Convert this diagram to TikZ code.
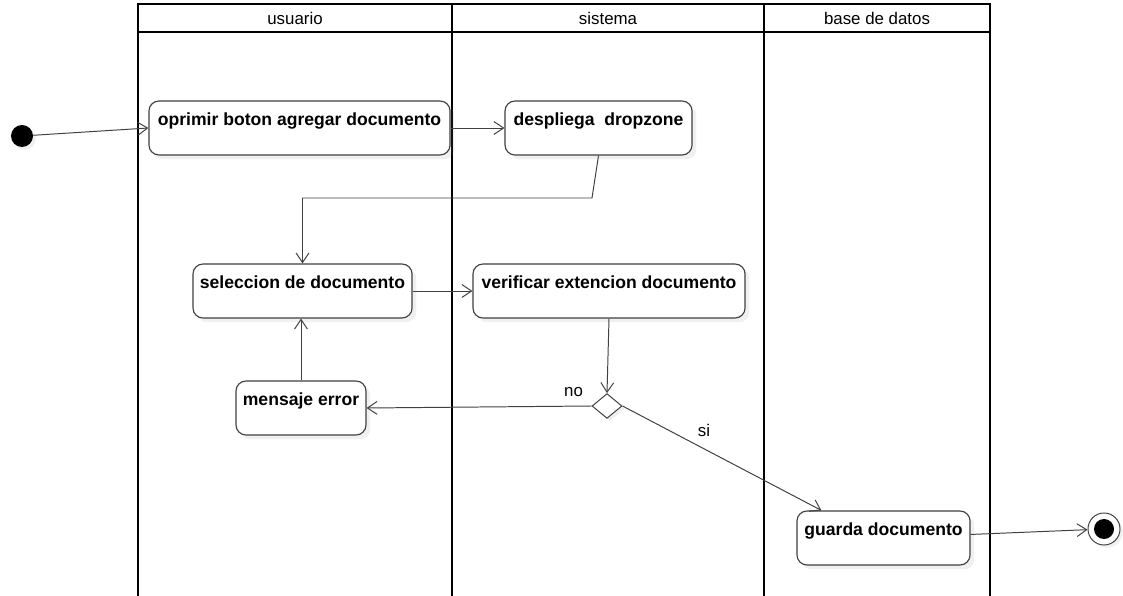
\documentclass[tikz,border=0pt]{standalone}
\usepackage{fontspec}
\setmainfont{Liberation Sans}
\usetikzlibrary{arrows.meta, shapes.geometric, shadows}

\begin{document}
\begin{tikzpicture}[
  x=0.025cm, y=-0.025cm,
  act/.style={rectangle, rounded corners=2.5mm, draw=black!75, line width=0.8pt, fill=white,
    drop shadow={shadow xshift=3pt, shadow yshift=-3pt, opacity=.12},
    font=\fontsize{12.5}{14}\selectfont\bfseries, inner xsep=3pt, inner ysep=0pt,
    text height=0.62cm, text depth=0.73cm},
  lane/.style={font=\fontsize{12}{14}\selectfont},
  flow/.style={-{Straight Barb[length=2.4mm, width=3.2mm]}, draw=black!75, line width=0.7pt},
  start/.style={circle, fill=black, minimum size=0.55cm, inner sep=0pt,
    drop shadow={shadow xshift=2pt, shadow yshift=-2pt, opacity=.12}},
  stop/.style={circle, draw=black!75, fill=white, line width=0.7pt, minimum size=0.8cm, inner sep=0pt,
    drop shadow={shadow xshift=2pt, shadow yshift=-2pt, opacity=.12}},
  decision/.style={diamond, draw=black!75, fill=white, line width=0.7pt, minimum width=0.75cm,
    minimum height=0.62cm, inner sep=0pt,
    drop shadow={shadow xshift=2pt, shadow yshift=-2pt, opacity=.12}}
]
\useasboundingbox (0,0) rectangle (1123,596);

% carriles
\draw[line width=1.4pt] (138,596) |- (990,4) -- (990,596);
\draw[line width=1.4pt] (138,32) -- (990,32);
\draw[line width=1.4pt] (452,4) -- (452,596);
\draw[line width=1.4pt] (764,4) -- (764,596);
\node[lane] (usuario) at (295,18) {usuario};
\node[lane] (sistema) at (608,18) {sistema};
\node[lane] (bd) at (877,18) {base de datos};

% actividades
\node[start] (ini) at (22,136) {};
\node[act, minimum width=7.525cm] (op) at (299.5,128) {oprimir boton agregar documento};
\node[act, minimum width=4.675cm] (dz) at (598.5,128) {despliega\ \ dropzone};
\node[act, minimum width=5.475cm] (sd) at (302.5,291) {seleccion de documento};
\node[act, minimum width=6.8cm] (vx) at (609,291) {verificar extencion documento};
\node[decision] (dec) at (607,406) {};
\node[act, minimum width=3.25cm] (me) at (301,408) {mensaje error};
\node[act, minimum width=4.325cm] (gd) at (883.5,538) {guarda documento};
\node[stop] (fin) at (1104,529) {};
\fill (fin.center) circle (0.25cm);

% flujo
\draw[flow] (ini) -- (op.west);
\draw[flow] (op) -- (dz);
\draw[flow] (dz.south) -- (592,198) -| (sd.north);
\draw[flow] (sd) -- (vx);
\draw[flow] (vx.south) -- (dec.north);
\draw[flow] (dec.west) -- node[pos=0.08, above=3pt, lane] {no} (me.east);
\draw[flow] (dec.east) -- node[pos=0.41, above=5pt, lane] {si} ([xshift=0.625cm]gd.north west);
\draw[flow] (me.north) -- (me.north |- sd.south);
\draw[flow] (gd) -- (fin);
\end{tikzpicture}
\end{document}
